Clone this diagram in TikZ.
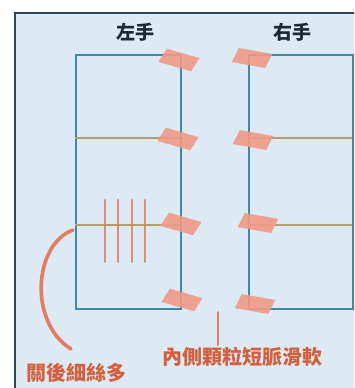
\documentclass[tikz,border=0pt]{standalone}
\usepackage{fontspec}
\newfontfamily\cjk{Noto Sans CJK TC}[BoldFont={Noto Sans CJK TC Black}]
\usetikzlibrary{calc}
\definecolor{bgblue}{HTML}{DDE9F3}
\definecolor{framec}{HTML}{2E4555}
\definecolor{rectc}{HTML}{3F88AA}
\definecolor{hline}{HTML}{B0A070}
\definecolor{patch}{HTML}{F09A86}
\definecolor{salmon}{HTML}{E27C64}
\definecolor{labred}{HTML}{D2603F}
\definecolor{headc}{HTML}{1E2A33}
\tikzset{
  handrect/.style={draw=rectc, line width=1.5pt},
  divline/.style={draw=hline, line width=1.1pt},
  patchbox/.style={fill=patch, opacity=0.9, minimum width=34pt, minimum height=15pt, inner sep=0pt},
  stripe/.style={draw=salmon, line width=2.6pt, line cap=round, opacity=0.85},
  heading/.style={font=\cjk\bfseries\fontsize{19}{20}\selectfont, text=headc, inner sep=0pt},
  label/.style={font=\cjk\bfseries\fontsize{20}{22}\selectfont, text=labred, inner sep=0pt},
  pointer/.style={draw=salmon, line cap=round}
}
\begin{document}
\begin{tikzpicture}[x=1pt,y=-1pt]
\useasboundingbox (0,0) rectangle (354,388);
\clip (0,0) rectangle (354,388);
\fill[white] (0,0) rectangle (354,388);
\fill[bgblue] (14.5,12.5) rectangle (360,400);
\draw[framec, line width=2pt] (14.5,400) -- (14.5,12.5) -- (360,12.5);

% headings
\node[heading] (hl) at (135,32) {左手};
\node[heading] (hr) at (292,32) {右手};

% hand rectangles
\node[handrect, minimum width=105pt, minimum height=254pt, inner sep=0pt, anchor=north west] (L) at (75,54) {};
\node[handrect, minimum width=104pt, minimum height=254pt, inner sep=0pt, anchor=north west] (R) at (248,54) {};
\coordinate (l1) at (75,138); \coordinate (l1e) at (180,138);
\coordinate (l2) at (75,225); \coordinate (l2e) at (180,225);
\coordinate (r1) at (248,138); \coordinate (r1e) at (352,138);
\coordinate (r2) at (248,225); \coordinate (r2e) at (352,225);
\draw[divline] (l1) -- (l1e);
\draw[divline] (l2) -- (l2e);
\draw[divline] (r1) -- (r1e);
\draw[divline] (r2) -- (r2e);

% stripes
\foreach \x [count=\i] in {105,118,132,145}{
  \coordinate (s\i a) at (\x,200);
  \coordinate (s\i b) at (\x,262);
  \draw[stripe] (s\i a) -- (s\i b);
}

% patches
\node[patchbox, rotate=-16, xslant=0.3] (pl1) at (179,60) {};
\node[patchbox, rotate=-16, xslant=0.3] (pl2) at (178,139) {};
\node[patchbox, rotate=-16, xslant=0.3] (pl3) at (181,224) {};
\node[patchbox, rotate=-16, xslant=0.3] (pl4) at (182,300) {};
\node[patchbox, rotate=-10, xslant=0.3] (pr1) at (252,58) {};
\node[patchbox, rotate=-10, xslant=0.3] (pr2) at (253,140) {};
\node[patchbox, rotate=-10, xslant=0.3] (pr3) at (258,223) {};
\node[patchbox, rotate=-10, xslant=0.3] (pr4) at (255,304) {};

% labels
\node[label] (lab1) at (76,373) {關後細絲多};
\node[label] (lab2) at (242,357) {內側顆粒短脈滑軟};

% pointers
\coordinate (ctop) at (73,230);
\coordinate (cend) at (71,349);
\draw[pointer, line width=3.6pt] (ctop) .. controls (34,244) and (28,322) .. (cend);
\coordinate (gtop) at (218,312);
\draw[pointer, line width=2pt] (gtop) -- ($(lab2.north)+(-24,-2)$);
\end{tikzpicture}
\end{document}
